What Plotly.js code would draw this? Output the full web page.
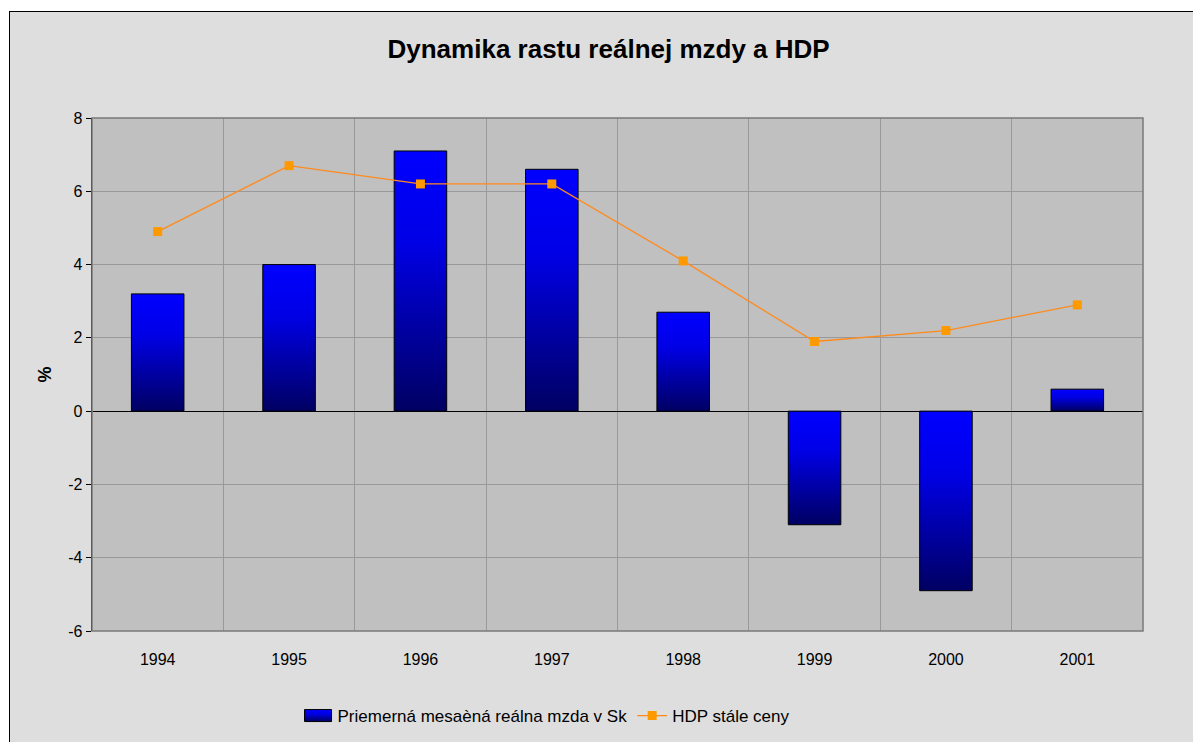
<!DOCTYPE html>
<html>
<head>
<meta charset="utf-8">
<script src="https://cdn.plot.ly/plotly-3.0.1.min.js"></script>
<style>
  html, body { margin: 0; padding: 0; background: #ffffff; overflow: hidden; }
  #wrap { position: absolute; left: 9px; top: 11px; border-left: 1px solid #000; border-top: 1px solid #000; width: 1190px; height: 740px; background: #dedede; }
  #chart { width: 1183px; height: 730px; }
</style>
</head>
<body>
<div id="wrap"><div id="chart"></div></div>
<script>
// ---- data ----
const years = ['1994', '1995', '1996', '1997', '1998', '1999', '2000', '2001'];
const realWage = [3.2, 4.0, 7.1, 6.6, 2.7, -3.1, -4.9, 0.6];
const gdp = [4.9, 6.7, 6.2, 6.2, 4.1, 1.9, 2.2, 2.9];
const wageName = 'Priemerná mesaèná reálna mzda v Sk';
const gdpName = 'HDP stále ceny';
const chartTitle = 'Dynamika rastu reálnej mzdy a HDP';
const yTitle = '%';
const yTicks = [-6, -4, -2, 0, 2, 4, 6, 8];
const yTickText = ['-6', '-4', '-2', '0', '2', '4', '6', '8'];

const FONT = 'Liberation Sans, Arial, sans-serif';

const traces = [
  {
    type: 'bar', x: years, y: realWage, name: wageName,
    marker: { color: '#0000ff', line: { color: '#000000', width: 1 } },
    width: 0.4
  },
  {
    type: 'scatter', mode: 'lines+markers', x: years, y: gdp, name: gdpName,
    line: { color: '#ff8a1c', width: 1.3 },
    marker: { symbol: 'square', size: 9, color: '#ff9900' }
  }
];

const layout = {
  width: 1183, height: 730,
  margin: { l: 82, r: 50, t: 106, b: 111 },
  paper_bgcolor: '#dedede',
  plot_bgcolor: '#c0c0c0',
  font: { family: FONT, size: 16, color: '#000' },
  title: { text: '<b>' + chartTitle + '</b>', x: 0.506, xanchor: 'center', y: 0.95, yanchor: 'middle', font: { size: 26, family: FONT } },
  showlegend: true,
  legend: { orientation: 'h', x: 0.432, xanchor: 'center', yref: 'container', y: 0.0356, yanchor: 'middle', font: { size: 17 }, bgcolor: 'rgba(0,0,0,0)', traceorder: 'normal' },
  xaxis: {
    type: 'category', tickson: 'boundaries', showgrid: true, gridcolor: '#999999', gridwidth: 1,
    ticks: '', ticklabelstandoff: 17, tickfont: { size: 16 },
    showline: false, zeroline: false, fixedrange: true, automargin: false
  },
  yaxis: {
    range: [-6, 8], tickvals: yTicks, ticktext: yTickText, ticks: 'outside', ticklen: 5, tickcolor: '#000',
    showgrid: true, gridcolor: '#999999', gridwidth: 1,
    zeroline: true, zerolinecolor: '#000', zerolinewidth: 1,
    showline: true, linecolor: '#000', linewidth: 1.3,
    tickfont: { size: 16 }, automargin: false,
    title: { text: '<b>' + yTitle + '</b>', font: { size: 18 }, standoff: 12 }
  },
  shapes: [
    { type: 'rect', xref: 'paper', yref: 'paper', x0: 0, x1: 1, y0: 0, y1: 1, line: { color: '#7a7a7a', width: 1.5 }, layer: 'above' }
  ],
  bargap: 0.6
};

Plotly.newPlot('chart', traces, layout, { displayModeBar: false, staticPlot: true }).then(function (gd) {
  const svg = gd.querySelector('svg.main-svg');
  let defs = svg.querySelector('defs');
  const NS = 'http://www.w3.org/2000/svg';
  const grad = document.createElementNS(NS, 'linearGradient');
  grad.setAttribute('id', 'barGrad');
  grad.setAttribute('x1', '0'); grad.setAttribute('y1', '0');
  grad.setAttribute('x2', '0'); grad.setAttribute('y2', '1');
  [['0%', '#0000ff'], ['35%', '#0000e6'], ['100%', '#000062']].forEach(function (s) {
    const st = document.createElementNS(NS, 'stop');
    st.setAttribute('offset', s[0]); st.setAttribute('stop-color', s[1]);
    grad.appendChild(st);
  });
  defs.appendChild(grad);
  gd.querySelectorAll('.trace.bars .point path').forEach(function (p) {
    p.style.fill = 'url(#barGrad)';
  });
  const leg = gd.querySelectorAll('.legend .traces')[0];
  if (leg) {
    leg.querySelectorAll('.legendpoints path').forEach(function (p) {
      p.setAttribute('d', 'M14,6H-13V-6H14Z');
      p.style.fill = 'url(#barGrad)';
    });
  }
});
</script>
</body>
</html>
